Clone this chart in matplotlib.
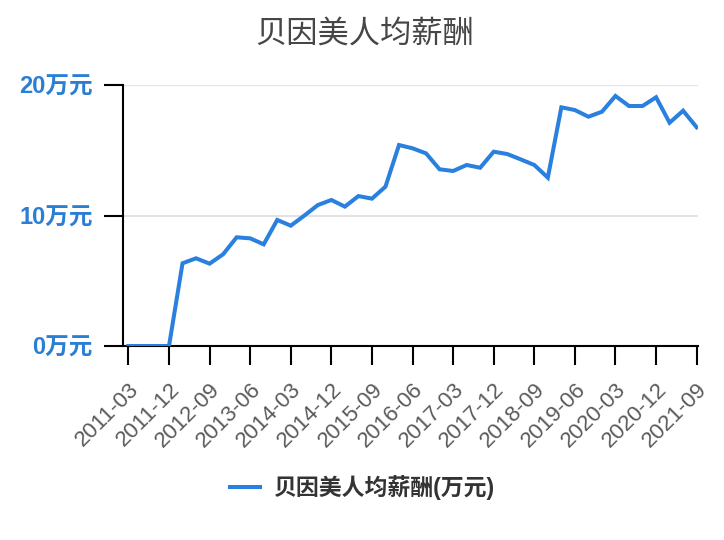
import matplotlib
matplotlib.use("Agg")
import matplotlib.pyplot as plt

plt.rcParams['font.family'] = ['Liberation Sans', 'Noto Sans CJK SC', 'DejaVu Sans']

# quarterly periods 2011-03 .. 2021-09
quarters = []
for yr in range(2011, 2022):
    for m in ['03', '06', '09', '12']:
        q = '%d-%s' % (yr, m)
        quarters.append(q)
        if q == '2021-09':
            break

# 人均薪酬 (万元)
salary = [0.0, 0.0, 0.0, 0.0, 6.34, 6.72, 6.31, 7.03, 8.33, 8.25,
          7.79, 9.66, 9.22, 9.99, 10.8, 11.19, 10.68, 11.49, 11.29, 12.21,
          15.4, 15.15, 14.76, 13.54, 13.41, 13.87, 13.66, 14.89, 14.71, 14.3,
          13.87, 12.9, 18.29, 18.08, 17.57, 17.95, 19.16, 18.39, 18.39, 19.06,
          17.11, 18.03, 16.76]

yticks = [0, 10, 20]
ytick_labels = ['0万元', '10万元', '20万元']

blue = '#2a80de'
label_blue = '#2a7fd4'

fig = plt.figure(figsize=(7.24, 5.40), dpi=100)
ax = fig.add_axes([123 / 724, 1 - 346 / 540, (698 - 123) / 724, (346 - 85) / 540])

x = list(range(len(quarters)))
ax.plot(x, salary, color=blue, lw=2.9, solid_joinstyle='miter',
        label='贝因美人均薪酬(万元)', zorder=3)

ax.set_xlim(-0.4, 42.1)
ax.set_ylim(0, 20)

ax.set_yticks(yticks)
ax.set_yticklabels(ytick_labels, color=label_blue, fontsize=17, fontweight='bold')
ax.yaxis.grid(True, color='#e3e3e3', lw=1.5)
ax.set_axisbelow(True)

xt = x[::3]
ax.set_xticks(xt)
ax.set_xticklabels([quarters[i] for i in xt], rotation=45, ha='right', va='top',
                   rotation_mode='anchor', color='#5a5a5a', fontsize=16)

ax.tick_params(axis='y', length=13.7, width=1.5, pad=8)
ax.tick_params(axis='x', length=13.7, width=1.5, pad=10)

for s in ['top', 'right']:
    ax.spines[s].set_visible(False)
for s in ['left', 'bottom']:
    ax.spines[s].set_linewidth(1.5)
    ax.spines[s].set_color('black')

fig.text(0.503, 1 - 35 / 540, '贝因美人均薪酬', ha='center', va='center',
         fontsize=22.5, color='#464646')

leg = fig.legend(loc='center', bbox_to_anchor=(0.5, 1 - 488 / 540), frameon=False,
                 handlelength=1.3, handletextpad=0.55,
                 prop={'size': 16.5, 'weight': 'bold',
                       'family': ['Liberation Sans', 'Noto Sans CJK SC']})
for t in leg.get_texts():
    t.set_color('#333333')

fig.savefig('out.png', dpi=100)
